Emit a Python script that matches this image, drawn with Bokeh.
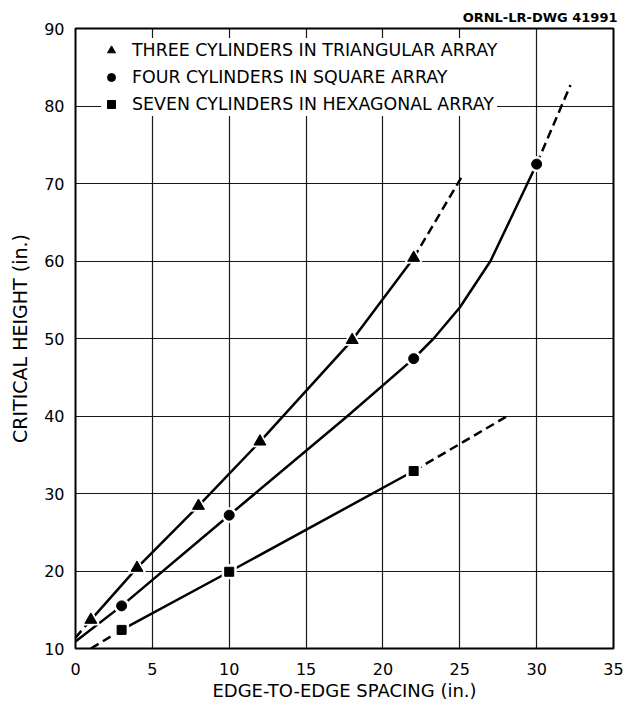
from bokeh.plotting import figure
from bokeh.models import Legend, LegendItem, FixedTicker
from bokeh.embed import file_html
from bokeh.resources import INLINE

# ---------------- data ----------------
x_ticks = [0, 5, 10, 15, 20, 25, 30, 35]
y_ticks = [10, 20, 30, 40, 50, 60, 70, 80, 90]

# measured points
tri_x = [1, 4, 8, 12, 18, 22]
tri_y = [13.7, 20.4, 28.4, 36.7, 49.8, 60.4]
cir_x = [3, 10, 22, 30]
cir_y = [15.5, 27.2, 47.4, 72.5]
sq_x = [3, 10, 22]
sq_y = [12.4, 19.9, 32.9]

# curves traced through the picture
tri_curve_x = [0, 1, 4, 8, 12, 18, 22, 25.2]
tri_curve_y = [11.4, 13.7, 20.4, 28.4, 36.7, 49.8, 60.4, 71.1]
cir_curve_x = [0, 3, 10, 17.7, 22, 23.3, 25, 27.0, 29.4, 30, 32.2]
cir_curve_y = [10.9, 15.5, 27.2, 40, 47.4, 50, 54.0, 60, 70, 72.5, 82.7]
sq_curve_x = [1, 3, 10, 22, 28.1]
sq_curve_y = [10, 12.4, 19.9, 32.9, 40]

# which part of each curve is dashed (index ranges, start inclusive, end exclusive)
tri_dashed = [(0, 2), (6, 8)]
tri_solid = [(1, 7)]
cir_solid = [(0, 10)]
cir_dashed = [(9, 11)]
sq_dashed = [(0, 2), (3, 5)]
sq_solid = [(1, 4)]

labels = ["THREE CYLINDERS IN TRIANGULAR ARRAY",
          "FOUR CYLINDERS IN SQUARE ARRAY",
          "SEVEN CYLINDERS IN HEXAGONAL ARRAY"]
drawing_id = "ORNL-LR-DWG 41991"

# ---------------- figure ----------------
p = figure(width=624, height=703, x_range=(0, 35), y_range=(10, 90),
           output_backend="svg", toolbar_location=None,
           min_border_left=75, min_border_right=11,
           min_border_top=28, min_border_bottom=55)
p.background_fill_color = "white"
p.border_fill_color = "white"
p.outline_line_color = "black"
p.outline_line_width = 2

p.title.text = drawing_id
p.title.align = "right"
p.title.text_font = "DejaVu Sans"
p.title.text_font_size = "13px"
p.title.text_font_style = "bold"
p.title.text_color = "black"
p.title.standoff = 7
p.title.offset = -4

p.xaxis.ticker = FixedTicker(ticks=x_ticks)
p.yaxis.ticker = FixedTicker(ticks=y_ticks)
p.xgrid.ticker = FixedTicker(ticks=x_ticks)
p.ygrid.ticker = FixedTicker(ticks=y_ticks)
p.grid.grid_line_color = "black"
p.grid.grid_line_width = 1.2
p.grid.grid_line_alpha = 0.9

for ax in (p.xaxis[0], p.yaxis[0]):
    ax.axis_line_color = None
    ax.major_tick_line_color = None
    ax.minor_tick_line_color = None
    ax.major_tick_out = 0
    ax.major_tick_in = 0
    ax.minor_tick_out = 0
    ax.major_label_text_font = "DejaVu Sans"
    ax.major_label_text_font_size = "16px"
    ax.major_label_text_color = "black"
    ax.axis_label_text_font = "DejaVu Sans"
    ax.axis_label_text_font_style = "normal"
    ax.axis_label_text_color = "black"

p.xaxis.axis_label = "EDGE-TO-EDGE SPACING (in.)"
p.yaxis.axis_label = "CRITICAL HEIGHT (in.)"
p.xaxis.axis_label_text_font_size = "18px"
p.yaxis.axis_label_text_font_size = "19px"
p.xaxis.major_label_standoff = 14
p.yaxis.major_label_standoff = 11
p.xaxis.axis_label_standoff = 2
p.yaxis.axis_label_standoff = 10

LW = 2.5
DASH = "9 5"


def draw(xs, ys, ranges, dash):
    for a, b in ranges:
        kw = dict(line_color="black", line_width=LW, line_join="round")
        if dash:
            kw["line_dash"] = DASH
        p.line(xs[a:b], ys[a:b], **kw)


draw(tri_curve_x, tri_curve_y, tri_solid, False)
draw(tri_curve_x, tri_curve_y, tri_dashed, True)
draw(cir_curve_x, cir_curve_y, cir_solid, False)
draw(cir_curve_x, cir_curve_y, cir_dashed, True)
draw(sq_curve_x, sq_curve_y, sq_solid, False)
draw(sq_curve_x, sq_curve_y, sq_dashed, True)

# white halos so the curves break around the points
p.scatter(tri_x, tri_y, marker="triangle", size=18, color="white")
p.scatter(cir_x, cir_y, marker="circle", size=15, color="white")
p.scatter(sq_x, sq_y, marker="square", size=14, color="white")

tri_r = p.scatter(tri_x, tri_y, marker="triangle", size=12, color="black")
cir_r = p.scatter(cir_x, cir_y, marker="circle", size=10, color="black")
sq_r = p.scatter(sq_x, sq_y, marker="square", size=9, color="black")

legend = Legend(items=[LegendItem(label=labels[0], renderers=[tri_r]),
                       LegendItem(label=labels[1], renderers=[cir_r]),
                       LegendItem(label=labels[2], renderers=[sq_r])],
                location=(26, 532), orientation="vertical",
                border_line_color=None, background_fill_color="white",
                background_fill_alpha=1.0,
                label_text_font="DejaVu Sans", label_text_font_size="17.4px",
                label_text_color="black",
                padding=2, spacing=3, label_height=24, glyph_height=24,
                glyph_width=20, label_standoff=11, margin=0)
p.add_layout(legend)

open("out.html", "w").write(file_html(p, INLINE))
